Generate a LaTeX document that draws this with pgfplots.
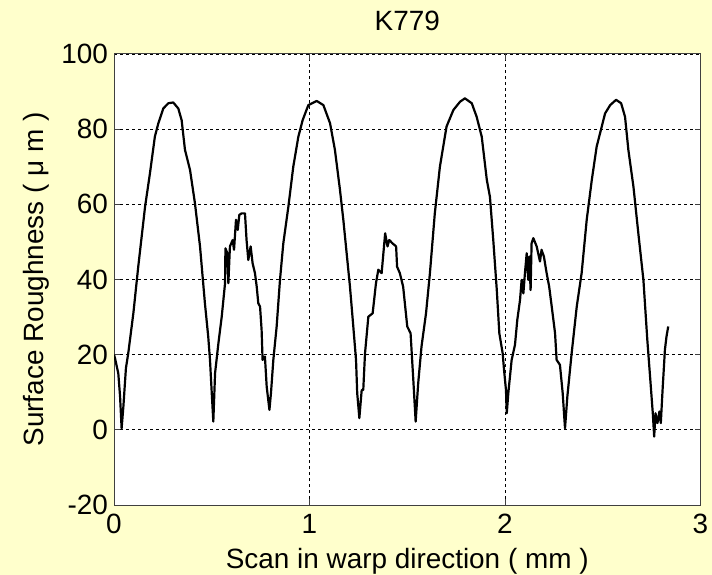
\documentclass[border=0pt]{standalone}
\usepackage{pgfplots}
\pgfplotsset{compat=1.18}
\usepackage{fontspec}
\setmainfont{Liberation Sans}

\definecolor{figbg}{RGB}{255,255,204}

\pgfplotstableread{
x y
0.000 20
0.005 19.1
0.022 15
0.031 8.9
0.039 0.4
0.048 6.2
0.061 16.4
0.073 20.4
0.099 31
0.124 43.4
0.159 59.4
0.184 68.3
0.209 78
0.227 81.6
0.252 85.5
0.278 86.9
0.303 87.1
0.329 85.5
0.346 82.4
0.363 74.5
0.389 69.1
0.414 60.3
0.440 48.8
0.465 33.7
0.482 24.8
0.491 18.6
0.500 9.8
0.508 2.2
0.517 15.1
0.534 23
0.551 30.1
0.568 39
0.570 48.3
0.580 47
0.585 39
0.593 48.8
0.607 50.5
0.614 47.9
0.624 55.9
0.633 53.2
0.641 57.2
0.653 57.6
0.670 57.6
0.678 50.5
0.687 45.2
0.699 48.8
0.709 44.3
0.721 41.7
0.730 38.1
0.738 33.7
0.747 32.8
0.755 26.6
0.760 18.6
0.772 19.5
0.781 11.5
0.795 5.3
0.803 9.8
0.815 18.6
0.832 27.5
0.849 39.9
0.866 49.6
0.892 59.4
0.917 70
0.943 78
0.965 82.4
0.994 86.4
1.037 87.5
1.071 86.4
1.105 81.6
1.130 74.5
1.156 63.8
1.173 55.9
1.190 47
1.207 38.1
1.224 27.5
1.238 18.6
1.244 9.8
1.255 3.1
1.267 10.6
1.275 10.6
1.284 20.4
1.301 30.1
1.323 31
1.340 39
1.352 42.6
1.369 41.7
1.387 52.3
1.399 48.8
1.408 50.5
1.425 49.6
1.443 48.8
1.448 43.4
1.462 41.7
1.479 38.1
1.500 27.5
1.517 25.7
1.531 13.3
1.543 2.2
1.556 12.4
1.573 22.2
1.596 31
1.616 41.7
1.641 57.6
1.667 70
1.701 80.7
1.736 85.1
1.770 87.3
1.795 88.2
1.830 86.9
1.855 83.3
1.881 78
1.907 66.5
1.923 62
1.940 50.5
1.958 37.2
1.971 25.7
1.988 20.4
1.995 16
2.005 10.6
2.009 4.4
2.017 9.8
2.034 18.6
2.051 22.6
2.063 29.3
2.077 34.6
2.085 39.9
2.094 36.3
2.102 41.7
2.111 47
2.119 39.9
2.124 46.1
2.131 37.2
2.136 49.6
2.145 51
2.162 48.8
2.179 44.8
2.187 47.9
2.199 46.1
2.213 41.7
2.226 38.1
2.239 32.8
2.256 25.7
2.264 18.6
2.281 17.3
2.295 9.8
2.307 0.4
2.319 8.9
2.341 20.4
2.367 32.8
2.392 41.7
2.418 55.9
2.444 66.5
2.469 75.4
2.495 80.7
2.512 84.2
2.538 86.4
2.568 87.8
2.594 86.9
2.614 83.3
2.631 74.5
2.657 64.7
2.682 52.3
2.708 39.9
2.728 23.9
2.742 14.2
2.756 4.4
2.763 -1.8
2.770 4.4
2.780 1.8
2.790 4.9
2.797 1.8
2.806 10.6
2.818 21.3
2.826 24.8
2.835 27.5
}\profile

\begin{document}
\begin{tikzpicture}
  % figure background
  \fill[figbg] (0,0) rectangle (356bp,287.5bp);
  \useasboundingbox (0,0) rectangle (356bp,287.5bp);
  \begin{axis}[
    scale only axis,
    at={(57bp,35bp)}, anchor=south west,
    width=293.25bp, height=225.5bp,
    xmin=0, xmax=3, ymin=-20, ymax=100,
    xtick={0,1,2,3}, ytick={-20,0,20,40,60,80,100},
    axis background/.style={fill=white},
    axis line style={black!75, line width=0.5bp},
    tick style={black!75, line width=0.5bp},
    tick align=inside,
    major tick length=3bp,
    grid=major,
    major grid style={black, line width=0.45bp, dash pattern=on 1.7bp off 1.3bp},
    font=\fontsize{14}{16}\selectfont,
    tick label style={font=\fontsize{14}{16}\selectfont},
    /pgf/number format/assume math mode=true,
    yticklabel style={xshift=0.5bp},
    xticklabel style={yshift=-1bp},
    title={K779},
    every axis title/.style={at={(axis description cs:0.5,1.0532)}, anchor=base, inner sep=0pt},
    xlabel={Scan in warp direction ( mm )},
    xlabel style={at={(axis description cs:0.5,-0.1397)}, anchor=base, inner sep=0pt},
    ylabel={Surface Roughness ( μ m )},
    ylabel style={at={(axis description cs:-0.121,0.5)}, anchor=base, inner sep=0pt},
  ]
    \addplot[black, line width=1.1bp, line join=round] table[x=x, y=y] {\profile};
  \end{axis}
\end{tikzpicture}
\end{document}
